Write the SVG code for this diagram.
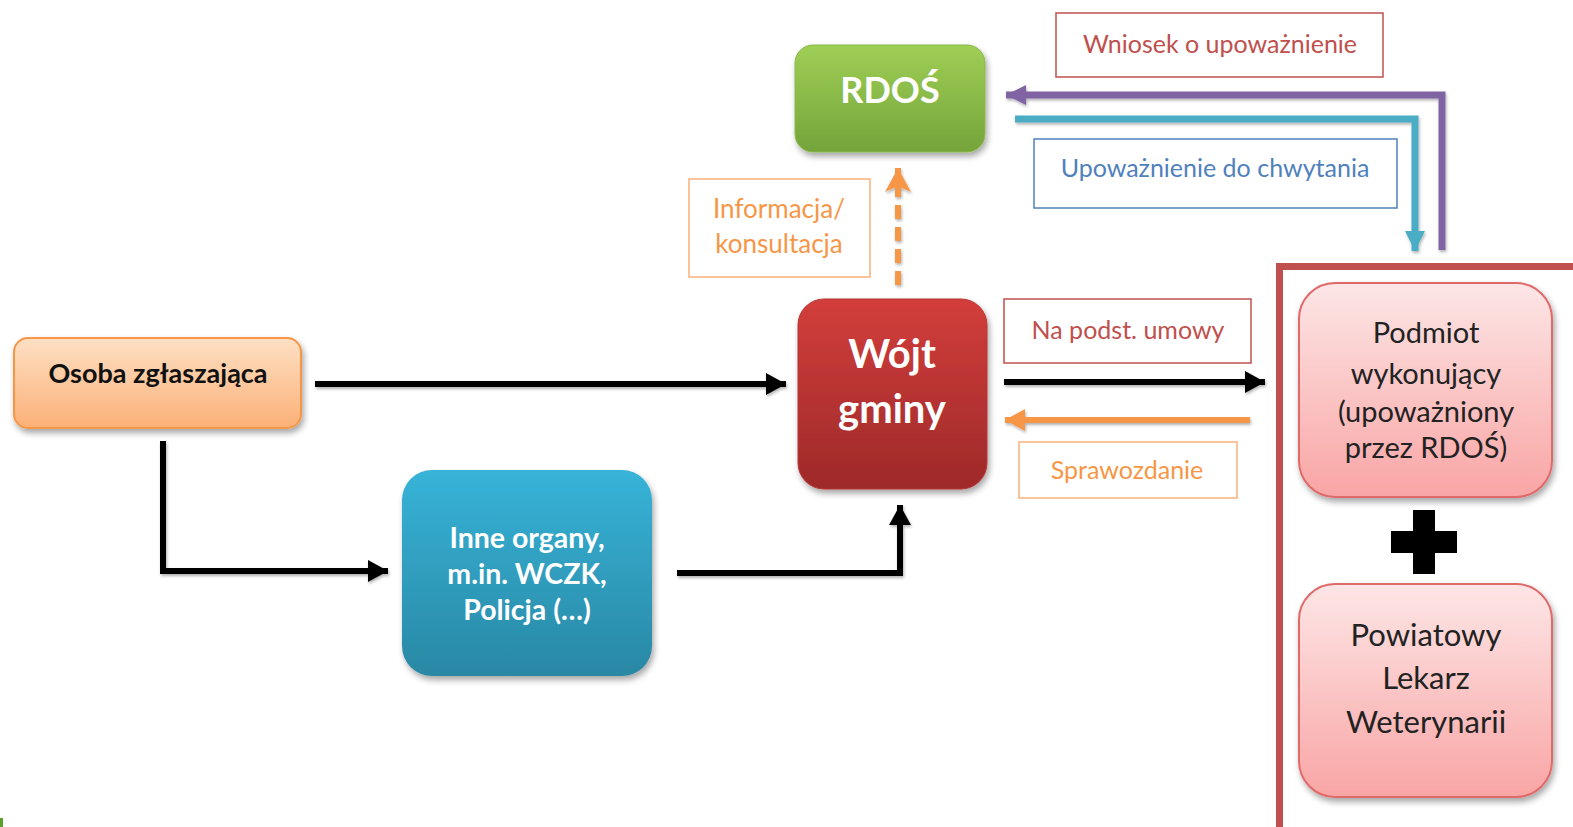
<svg xmlns="http://www.w3.org/2000/svg" width="1573" height="827" viewBox="0 0 1573 827">
<defs>
<linearGradient id="gGreen" x1="0" y1="0" x2="0" y2="1"><stop offset="0" stop-color="#9fcf55"/><stop offset="1" stop-color="#74a43a"/></linearGradient>
<linearGradient id="gRed" x1="0" y1="0" x2="0" y2="1"><stop offset="0" stop-color="#d23e3b"/><stop offset="1" stop-color="#9e2929"/></linearGradient>
<linearGradient id="gOrange" x1="0" y1="0" x2="0" y2="1"><stop offset="0" stop-color="#fde0c4"/><stop offset="1" stop-color="#fbb077"/></linearGradient>
<linearGradient id="gBlue" x1="0" y1="0" x2="0" y2="1"><stop offset="0" stop-color="#37b3d8"/><stop offset="1" stop-color="#2988a4"/></linearGradient>
<linearGradient id="gPink" x1="0" y1="0" x2="0" y2="1"><stop offset="0" stop-color="#fde6e6"/><stop offset="1" stop-color="#f9a5a5"/></linearGradient>
<filter id="sh" x="-10%" y="-10%" width="125%" height="130%"><feDropShadow dx="2" dy="4" stdDeviation="3" flood-color="#000" flood-opacity="0.35"/></filter>
<filter id="lsh" filterUnits="userSpaceOnUse" x="0" y="0" width="1573" height="827"><feDropShadow dx="1" dy="2" stdDeviation="1.5" flood-color="#000" flood-opacity="0.3"/></filter>
<marker id="aBlack" markerUnits="userSpaceOnUse" markerWidth="22" markerHeight="24" refX="20" refY="12" orient="auto"><path d="M0,1 L20,12 L0,23 Z" fill="#000"/></marker>
<marker id="aOrange" markerUnits="userSpaceOnUse" markerWidth="22" markerHeight="24" refX="20" refY="12" orient="auto"><path d="M0,1 L20,12 L0,23 Z" fill="#f79646"/></marker>
<marker id="aOrangeBig" markerUnits="userSpaceOnUse" markerWidth="26" markerHeight="30" refX="24" refY="15" orient="auto"><path d="M0,2 L24,15 L0,28 L6,15 Z" fill="#f79646"/></marker>
<marker id="aPurple" markerUnits="userSpaceOnUse" markerWidth="22" markerHeight="24" refX="20" refY="12" orient="auto"><path d="M0,2 L20,12 L0,22 Z" fill="#8064a2"/></marker>
<marker id="aTeal" markerUnits="userSpaceOnUse" markerWidth="22" markerHeight="24" refX="20" refY="12" orient="auto"><path d="M0,2 L20,12 L0,22 Z" fill="#4bacc6"/></marker>
</defs>
<style>
.t{font-family:Lato,"Liberation Sans",sans-serif;text-anchor:middle}
.b{font-weight:bold}
.w{fill:#fff}
.conn{fill:none;stroke-linejoin:miter}
.lbl{fill:#fff;stroke-width:1.5}
</style>
<rect width="1573" height="827" fill="#fff"/>
<rect x="0" y="818" width="3" height="9" fill="#5aa02c"/>

<g id="connectors" class="conn" filter="url(#lsh)">
<path d="M1442,250 V95 H1006" stroke="#8064a2" stroke-width="7" marker-end="url(#aPurple)"/>
<path d="M1015,119 H1415 V251" stroke="#4bacc6" stroke-width="7" marker-end="url(#aTeal)"/>
<path d="M898,285 V168" stroke="#f79646" stroke-width="6" stroke-dasharray="14 8" marker-end="url(#aOrangeBig)"/>
<path d="M315,384 H786" stroke="#000" stroke-width="6" marker-end="url(#aBlack)"/>
<path d="M163,441 V571 H388" stroke="#000" stroke-width="6" marker-end="url(#aBlack)"/>
<path d="M677,573 H900 V505" stroke="#000" stroke-width="6" marker-end="url(#aBlack)"/>
<path d="M1004,382 H1265" stroke="#000" stroke-width="6" marker-end="url(#aBlack)"/>
<path d="M1250,420 H1005" stroke="#f79646" stroke-width="6" marker-end="url(#aOrange)"/>
</g>

<g id="label-wniosek">
<rect class="lbl" x="1056" y="13" width="327" height="64" stroke="#c0504d"/>
<text class="t" x="1220" y="53" font-size="25" fill="#c0504d">Wniosek o upoważnienie</text>
</g>
<g id="label-upowaznienie">
<rect class="lbl" x="1034" y="139" width="363" height="69" stroke="#4f81bd"/>
<text class="t" x="1215" y="177" font-size="25" fill="#4f81bd">Upoważnienie do chwytania</text>
</g>
<g id="label-informacja">
<rect class="lbl" x="689" y="179" width="181" height="98" stroke="#fab07a"/>
<text class="t" x="779" y="218" font-size="26" fill="#f79646">Informacja/</text>
<text class="t" x="779" y="253" font-size="26" fill="#f79646">konsultacja</text>
</g>
<g id="label-umowy">
<rect class="lbl" x="1004" y="299" width="247" height="64" stroke="#c0504d"/>
<text class="t" x="1128" y="339" font-size="25" fill="#c0504d">Na podst. umowy</text>
</g>
<g id="label-sprawozdanie">
<rect class="lbl" x="1019" y="442" width="218" height="56" stroke="#fab07a"/>
<text class="t" x="1127" y="479" font-size="25" fill="#f79646">Sprawozdanie</text>
</g>

<g id="node-rdos">
<rect x="795" y="45" width="190" height="107" rx="18" fill="url(#gGreen)" stroke="#8ab84a" stroke-width="1" filter="url(#sh)"/>
<text class="t b w" x="890" y="103" font-size="36">RDOŚ</text>
</g>
<g id="node-wojt">
<rect x="798" y="299" width="189" height="190" rx="26" fill="url(#gRed)" stroke="#b83535" stroke-width="1" filter="url(#sh)"/>
<text class="t b w" x="892" y="368" font-size="40">Wójt</text>
<text class="t b w" x="892" y="423" font-size="40">gminy</text>
</g>
<g id="node-osoba">
<rect x="14" y="338" width="287" height="90" rx="14" fill="url(#gOrange)" stroke="#f79646" stroke-width="2" filter="url(#sh)"/>
<text class="t b" x="158" y="383" font-size="27" fill="#111">Osoba zgłaszająca</text>
</g>
<g id="node-inne">
<rect x="402" y="470" width="250" height="206" rx="30" fill="url(#gBlue)" filter="url(#sh)"/>
<text class="t b w" x="527" y="548" font-size="28.5">Inne organy,</text>
<text class="t b w" x="527" y="584" font-size="28.5">m.in. WCZK,</text>
<text class="t b w" x="527" y="620" font-size="28.5">Policja (…)</text>
</g>

<g id="group-frame">
<rect x="1279.5" y="266.5" width="300" height="570" fill="none" stroke="#c0504d" stroke-width="7"/>
</g>
<g id="node-podmiot">
<rect x="1299" y="283" width="253" height="214" rx="36" fill="url(#gPink)" stroke="#e06a6a" stroke-width="2" filter="url(#sh)"/>
<text class="t" x="1426" y="343" font-size="29" fill="#222">Podmiot</text>
<text class="t" x="1426" y="384" font-size="29" fill="#222">wykonujący</text>
<text class="t" x="1426" y="422" font-size="29" fill="#222">(upoważniony</text>
<text class="t" x="1426" y="458" font-size="29" fill="#222">przez RDOŚ)</text>
</g>
<g id="plus">
<rect x="1391" y="531" width="66" height="22" fill="#000"/>
<rect x="1413" y="510" width="22" height="64" fill="#000"/>
</g>
<g id="node-plw">
<rect x="1299" y="584" width="253" height="213" rx="36" fill="url(#gPink)" stroke="#e06a6a" stroke-width="2" filter="url(#sh)"/>
<text class="t" x="1426" y="646" font-size="31" fill="#222">Powiatowy</text>
<text class="t" x="1426" y="689" font-size="31" fill="#222">Lekarz</text>
<text class="t" x="1426" y="733" font-size="31" fill="#222">Weterynarii</text>
</g>
</svg>
